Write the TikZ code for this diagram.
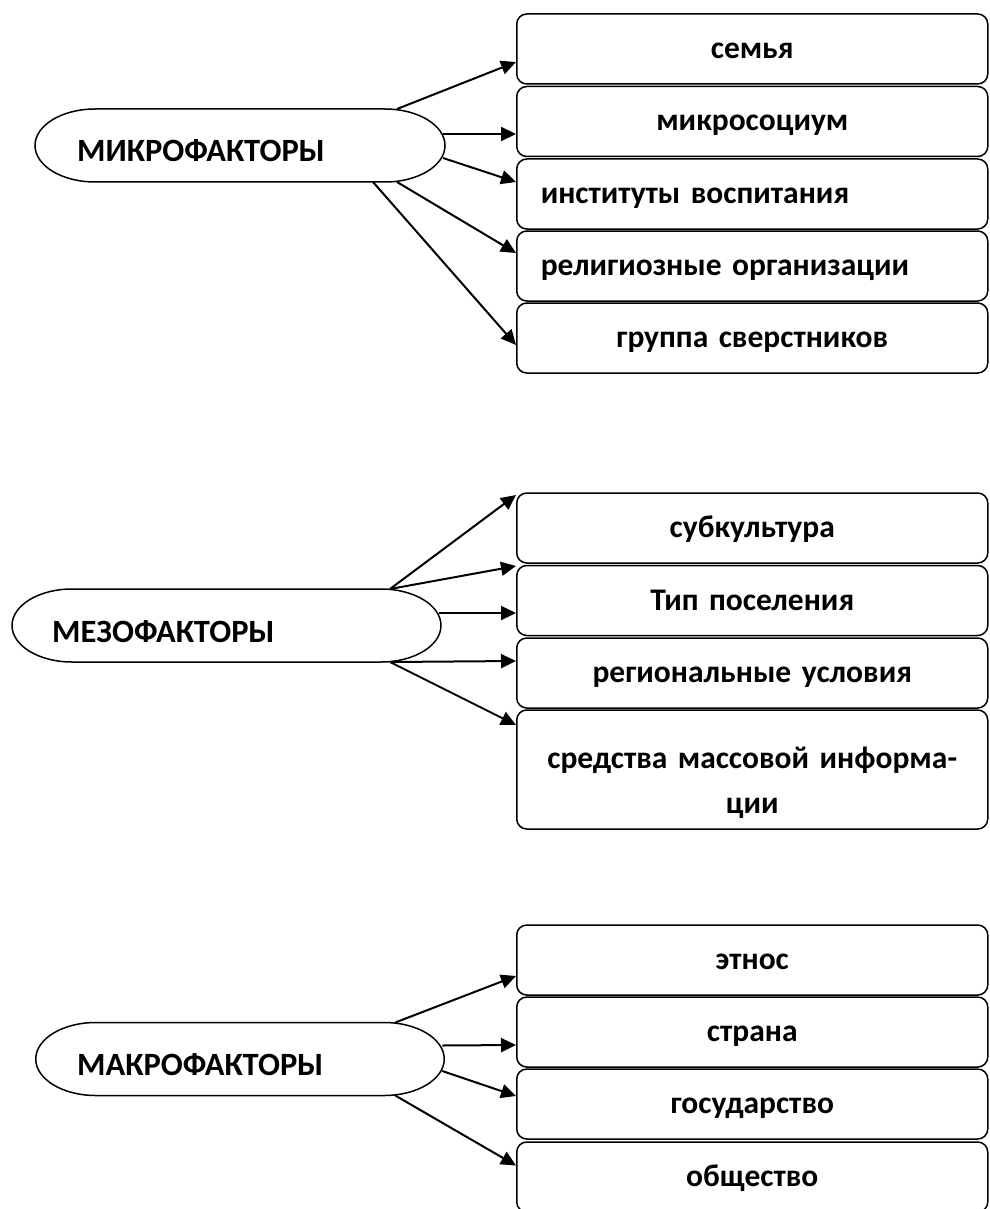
\documentclass[tikz,border=0pt]{standalone}
\usepackage{fontspec}
\setmainfont{Carlito}
\usetikzlibrary{arrows.meta}

\tikzset{
	factor/.style={minimum width=#1, minimum height=73pt, inner sep=0pt, outer sep=0pt,
		append after command={([xshift=60pt]\tikzlastnode.north west) -- ([xshift=-60pt]\tikzlastnode.north east)
			arc[start angle=90, end angle=-90, x radius=60pt, y radius=36.5pt]
			-- ([xshift=60pt]\tikzlastnode.south west)
			arc[start angle=270, end angle=90, x radius=60pt, y radius=36.5pt] -- cycle}},
	ftext/.style={font=\fontsize{32.5}{38}\selectfont\bfseries, inner sep=0pt, anchor=base west},
	box/.style={draw, line width=1.5pt, rounded corners=10pt, minimum height=70pt,
		text width=423pt, inner xsep=24pt, inner ysep=0pt, align=center,
		font=\fontsize{31.5}{45}\selectfont\bfseries, text height=22pt, text depth=3pt},
	arr/.style={-{Triangle[length=15pt,width=14pt]}, line width=2pt}
}

\begin{document}
\begin{tikzpicture}[x=1pt, y=-1pt]
	\useasboundingbox (0,0) rectangle (989,1209);

	% micro
	\draw[line width=1.5pt] (240,145.5) node[factor=410pt] (mic) {};
	\node[ftext] (micT) at (77,162) {МИКРОФАКТОРЫ};
	\node[box] (mi1) at (752.25,49) {семья};
	\node[box] (mi2) at (752.25,121.5) {микросоциум};
	\node[box, align=left] (mi3) at (752.25,194) {институты воспитания};
	\node[box, align=left] (mi4) at (752.25,266) {религиозные организации};
	\node[box] (mi5) at (752.25,338) {группа сверстников};
	\draw[arr] ([xshift=-48pt]mic.north east) -- ([yshift=-13pt]mi1.west);
	\draw[arr] ([xshift=-2pt,yshift=11.5pt]mic.east) -- ([yshift=-12.5pt]mi2.west);
	\draw[arr] ([xshift=-2pt,yshift=-12.5pt]mic.east) -- ([yshift=12pt]mi3.west);
	\draw[arr] ([xshift=-48pt]mic.south east) -- ([yshift=13pt]mi4.west);
	\draw[arr] ([xshift=-72pt]mic.south east) -- ([yshift=-7pt]mi5.west);

	% meso
	\draw[line width=1.5pt] (226.5,625.5) node[factor=429pt] (mes) {};
	\node[ftext] (mesT) at (52,642) {МЕЗОФАКТОРЫ};
	\node[box] (me1) at (752.25,528) {субкультура};
	\node[box] (me2) at (752.25,600.5) {Тип поселения};
	\node[box] (me3) at (752.25,673) {региональные условия};
	\node[box, minimum height=119pt, text depth=25pt] (me4) at (752.25,769.5) {средства массовой информа-\\ции};
	\draw[arr] ([xshift=-51pt]mes.north east) -- ([yshift=33pt]me1.west);
	\draw[arr] ([xshift=-51pt]mes.north east) -- ([yshift=34.5pt]me2.west);
	\draw[arr] ([xshift=-2pt,yshift=12.5pt]mes.east) -- ([yshift=-12.5pt]me2.west);
	\draw[arr] ([xshift=-51pt]mes.south east) -- ([yshift=12pt]me3.west);
	\draw[arr] ([xshift=-51pt]mes.south east) -- ([yshift=44.5pt]me4.west);

	% macro
	\draw[line width=1.5pt] (240,1059) node[factor=408.5pt] (mac) {};
	\node[ftext] (macT) at (77,1075) {МАКРОФАКТОРЫ};
	\node[box] (ma1) at (752.25,960) {этнос};
	\node[box] (ma2) at (752.25,1032) {страна};
	\node[box] (ma3) at (752.25,1104) {государство};
	\node[box] (ma4) at (752.25,1177) {общество};
	\draw[arr] ([xshift=-49pt]mac.north east) -- ([yshift=-16pt]ma1.west);
	\draw[arr] ([xshift=-2pt,yshift=13.5pt]mac.east) -- ([yshift=-13pt]ma2.west);
	\draw[arr] ([xshift=-2pt,yshift=-12pt]mac.east) -- ([yshift=8pt]ma3.west);
	\draw[arr] ([xshift=-49pt]mac.south east) -- ([yshift=11.5pt]ma4.west);
\end{tikzpicture}
\end{document}
